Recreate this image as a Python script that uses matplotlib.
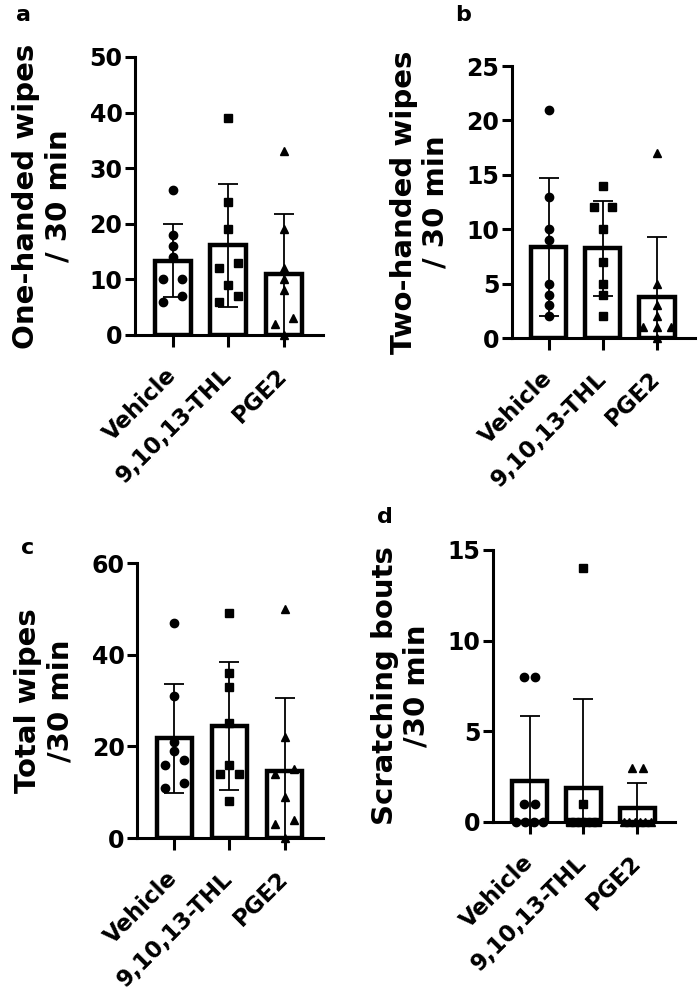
import numpy as np
import matplotlib
matplotlib.use("Agg")
import matplotlib.pyplot as plt

GROUPS = ["Vehicle", "9,10,13-THL", "PGE2"]
MARKERS = ["o", "s", "^"]

# Werte (n = 8 pro Gruppe)
one_handed_vehicle = [26, 18, 16, 14, 10, 10, 7, 6]
one_handed_thl = [39, 24, 19, 13, 12, 9, 7, 6]
one_handed_pge2 = [33, 19, 12, 10, 8, 3, 2, 0]

two_handed_vehicle = [21, 13, 10, 9, 5, 4, 3, 2]
two_handed_thl = [14, 12, 12, 10, 7, 5, 4, 2]
two_handed_pge2 = [17, 5, 3, 2, 1, 1, 1, 0]

total_vehicle = [47, 31, 21, 19, 17, 16, 12, 11]
total_thl = [49, 36, 33, 25, 16, 14, 14, 8]
total_pge2 = [50, 22, 15, 14, 9, 4, 3, 0]

scratch_vehicle = [8, 8, 1, 1, 0, 0, 0, 0]
scratch_thl = [14, 1, 0, 0, 0, 0, 0, 0]
scratch_pge2 = [3, 3, 0, 0, 0, 0, 0, 0]

PANELS = [
    # letter, ylabel, data, ymax, step, axes rect (fig fraction), letter pos
    ("a", "One-handed wipes\n/ 30 min",
     [one_handed_vehicle, one_handed_thl, one_handed_pge2], 50, 10,
     [0.1934, 0.6637, 0.2693, 0.2791], (0.033, 0.985)),
    ("b", "Two-handed wipes\n/ 30 min",
     [two_handed_vehicle, two_handed_thl, two_handed_pge2], 25, 5,
     [0.7335, 0.6606, 0.2620, 0.2731], (0.663, 0.985)),
    ("c", "Total wipes\n/30 min",
     [total_vehicle, total_thl, total_pge2], 60, 20,
     [0.1963, 0.1586, 0.2665, 0.2761], (0.040, 0.450)),
    ("d", "Scratching bouts\n/30 min",
     [scratch_vehicle, scratch_thl, scratch_pge2], 15, 5,
     [0.7063, 0.1747, 0.2607, 0.2731], (0.552, 0.481)),
]


def spread(values, tol, step):
    # gleiche Werte nebeneinander legen, wie bei GraphPad
    vals = np.sort(np.asarray(values, dtype=float))
    offsets = np.zeros(len(vals))
    groups = [[0]]
    for i in range(1, len(vals)):
        if vals[i] - vals[groups[-1][-1]] < tol:
            groups[-1].append(i)
        else:
            groups.append([i])
    for g in groups:
        n = len(g)
        if n > 1:
            s = min(step, 0.5 / (n - 1))
            for k, idx in enumerate(g):
                offsets[idx] = (k - (n - 1) / 2) * s
    return vals, offsets


fig = plt.figure(figsize=(6.98, 9.96), dpi=100)

for letter, ylabel, data, ymax, step, rect, lpos in PANELS:
    ax = fig.add_axes(rect)
    x = np.arange(len(GROUPS))
    means = [np.mean(d) for d in data]
    sds = [np.std(d, ddof=1) for d in data]

    ax.bar(x, means, width=0.65, color="white", edgecolor="black",
           linewidth=3.2, zorder=1)
    ax.errorbar(x, means, yerr=sds, fmt="none", ecolor="black",
                elinewidth=1.3, capsize=7, capthick=1.3, zorder=2)

    # im Panel d liegen die Punktpaare enger zusammen
    pair_step = 0.2 if letter == "d" else 0.34
    for i, d in enumerate(data):
        vals, offs = spread(d, 0.03 * ymax, pair_step)
        ax.plot(x[i] + offs, vals, linestyle="none", marker=MARKERS[i],
                markersize=6 if MARKERS[i] != "s" else 5.5,
                color="black", zorder=3, clip_on=False)

    ax.set_xlim(-0.68, 2.70)
    ax.set_ylim(0, ymax)
    ax.set_yticks(range(0, ymax + 1, step))
    ax.set_xticks(x)
    ax.set_xticklabels(GROUPS, rotation=45, ha="right", va="center",
                       rotation_mode="anchor", fontsize=16.5, fontweight="bold")
    for lab in ax.get_yticklabels():
        lab.set_fontsize(17)
        lab.set_fontweight("bold")

    for side in ["top", "right"]:
        ax.spines[side].set_visible(False)
    for side in ["left", "bottom"]:
        ax.spines[side].set_linewidth(2.2)
    ax.tick_params(axis="y", direction="out", length=7, width=2.2, pad=2)
    ax.tick_params(axis="x", direction="out", length=8.5, width=2.2, pad=18)

    ax.set_ylabel(ylabel, fontsize=21, fontweight="bold", labelpad=12)

    fig.text(lpos[0], lpos[1], letter, fontsize=16, fontweight="bold",
             ha="center", va="center")

fig.savefig("out.png", dpi=100)
